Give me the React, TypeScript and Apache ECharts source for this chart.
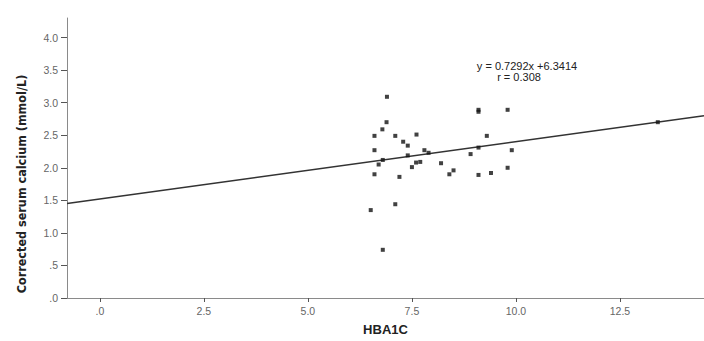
import React, { useEffect, useRef } from "react";
import * as echarts from "echarts";

const hba1c = [
  6.9, 6.89, 6.79, 6.6, 7.1, 7.29, 7.4, 7.61, 6.6, 7.8, 7.9, 7.4, 6.8, 6.7, 7.6, 7.7, 7.5, 8.2,
  8.91, 9.1, 6.6, 7.2, 8.4, 8.5, 9.1, 9.1, 9.1, 6.51, 7.1, 9.8, 9.3, 9.9, 9.4, 9.8, 13.41, 6.8,
];
const calcium = [
  3.09, 2.7, 2.59, 2.49, 2.49, 2.4, 2.34, 2.51, 2.27, 2.27, 2.23, 2.19, 2.12, 2.05, 2.08, 2.09, 2.01, 2.07,
  2.21, 2.31, 1.9, 1.86, 1.9, 1.96, 1.89, 2.89, 2.86, 1.35, 1.44, 2.89, 2.49, 2.27, 1.92, 2.0, 2.7, 0.74,
];
const fitLineX = [-0.79, 14.52];
const fitLineY = [1.45, 2.8];
const xTicks = [0, 2.5, 5, 7.5, 10, 12.5];
const yTicks = [0, 0.5, 1, 1.5, 2, 2.5, 3, 3.5, 4];
const xTitle = "HBA1C";
const yTitle = "Corrected serum calcium (mmol/L)";
const equationText = "y = 0.7292x +6.3414";
const rText = "r = 0.308";

const fmt = (v: number) => v.toFixed(1).replace(/^0/, "");

export default function App() {
  const ref = useRef<HTMLDivElement>(null);
  useEffect(() => {
    if (!ref.current) return;
    const chart = echarts.init(ref.current, null, { renderer: "svg" });
    const axisColor = "#8a8a8a";
    chart.setOption({
      animation: false,
      backgroundColor: "#ffffff",
      grid: { left: 67, top: 18, right: 0, bottom: 35, containLabel: false },
      xAxis: {
        type: "value",
        min: -0.79,
        max: 14.52,
        name: xTitle,
        nameLocation: "middle",
        nameGap: 25,
        nameTextStyle: { fontFamily: "Liberation Sans", fontWeight: "bold", fontSize: 13, color: "#222" },
        axisLine: { show: true, onZero: false, lineStyle: { color: axisColor, width: 1 } },
        axisTick: { show: true, customValues: xTicks, length: 4, inside: false, lineStyle: { color: "#555" } },
        axisLabel: {
          customValues: xTicks,
          formatter: (v: number) => fmt(v),
          fontFamily: "Liberation Sans",
          fontSize: 10.5,
          color: "#666",
          margin: 7,
        },
        splitLine: { show: false },
      },
      yAxis: {
        type: "value",
        min: 0,
        max: 4.3,
        axisLine: { show: true, onZero: false, lineStyle: { color: axisColor, width: 1 } },
        axisTick: { show: true, customValues: yTicks, length: 6, lineStyle: { color: "#555" } },
        axisLabel: {
          customValues: yTicks,
          formatter: (v: number) => fmt(v),
          fontFamily: "Liberation Sans",
          fontSize: 10.5,
          color: "#666",
          margin: 9,
        },
        splitLine: { show: false },
      },
      series: [
        {
          type: "line",
          data: fitLineX.map((x, i) => [x, fitLineY[i]]),
          symbol: "none",
          lineStyle: { color: "#333", width: 1.5 },
          silent: true,
          z: 1,
        },
        {
          type: "scatter",
          data: hba1c.map((x, i) => [x, calcium[i]]),
          symbol: "rect",
          symbolSize: 4,
          itemStyle: { color: "#111" },
          z: 2,
        },
      ],
      graphic: [
        {
          type: "text",
          x: 21,
          y: 184,
          rotation: Math.PI / 2,
          style: {
            text: yTitle,
            font: "bold 12.5px 'DejaVu Sans Condensed', 'Liberation Sans'",
            fill: "#222",
            align: "center",
            verticalAlign: "middle",
          },
        },
        {
          type: "text",
          x: 527,
          y: 66,
          style: {
            text: equationText,
            font: "11px 'Liberation Sans'",
            fill: "#222",
            align: "center",
            verticalAlign: "middle",
          },
        },
        {
          type: "text",
          x: 519,
          y: 77,
          style: {
            text: rText,
            font: "11px 'Liberation Sans'",
            fill: "#222",
            align: "center",
            verticalAlign: "middle",
          },
        },
      ],
    });
    return () => chart.dispose();
  }, []);
  return (
    <div
      ref={ref}
      style={{ position: "fixed", left: 0, top: 0, width: 704, height: 341 }}
    />
  );
}
